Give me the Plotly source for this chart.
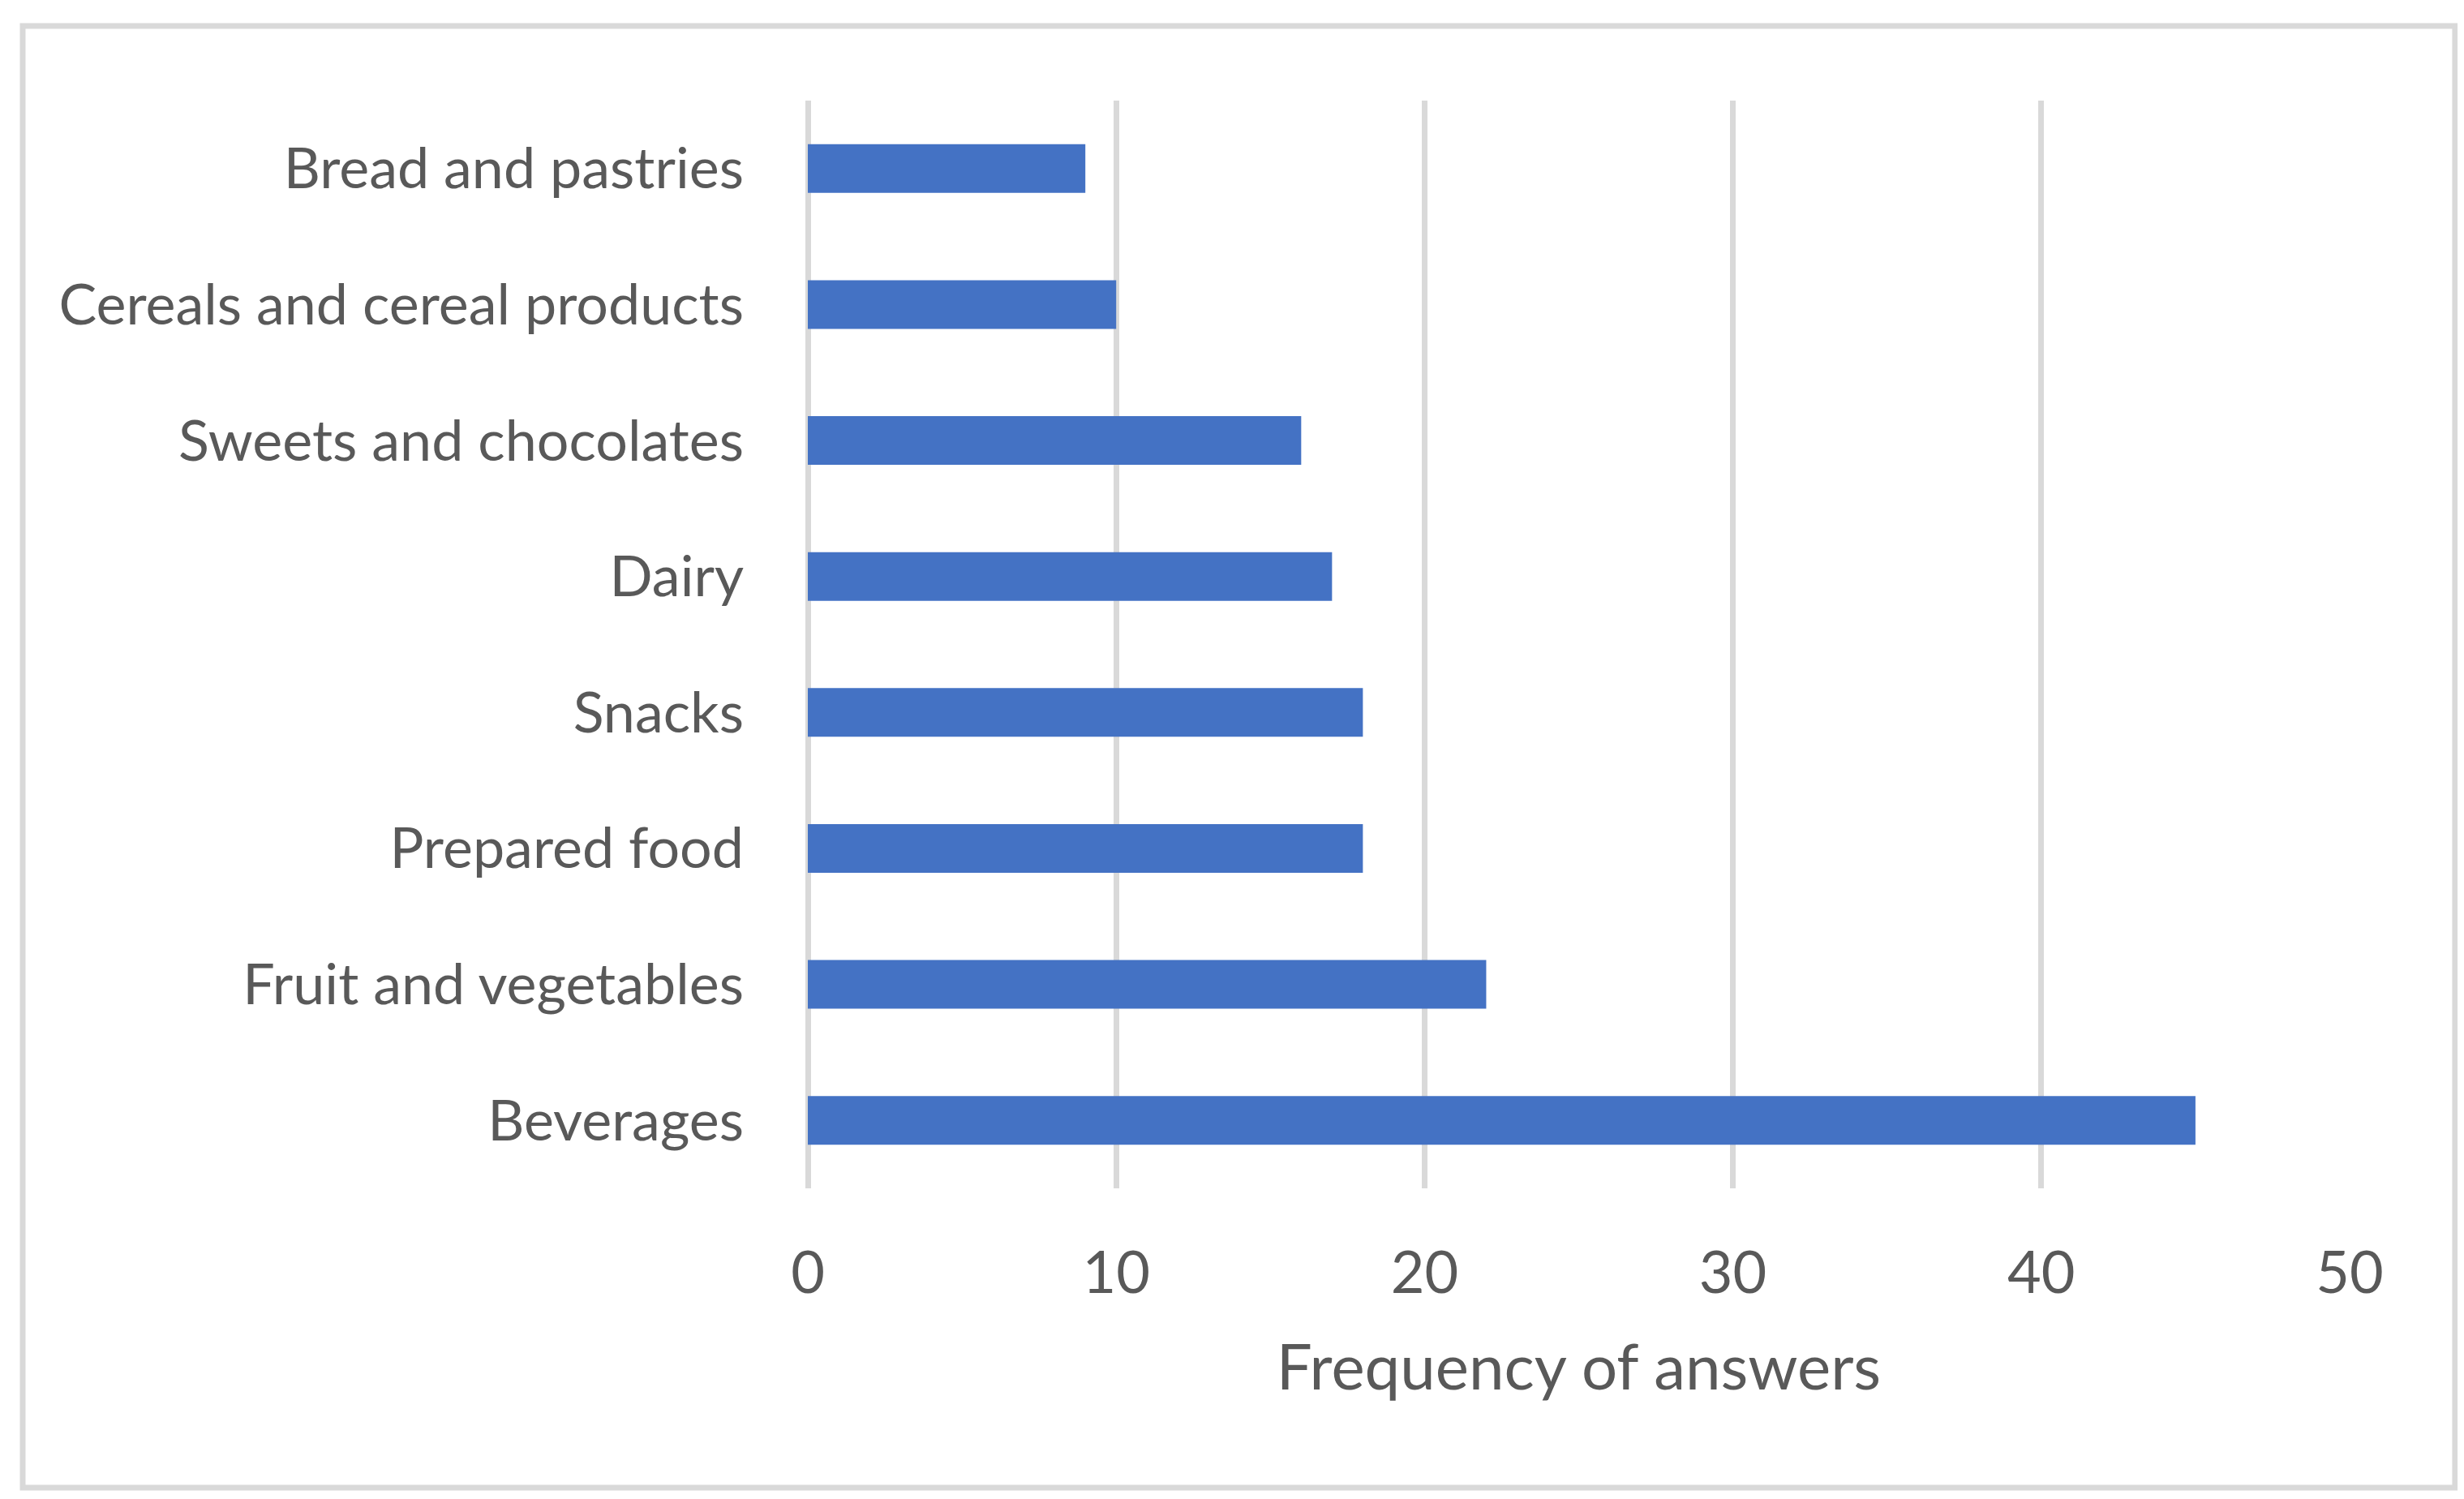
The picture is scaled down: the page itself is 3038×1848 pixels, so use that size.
import plotly.graph_objects as go

categories = ["Beverages", "Fruit and vegetables", "Prepared food", "Snacks",
              "Dairy", "Sweets and chocolates", "Cereals and cereal products",
              "Bread and pastries"]
values = [45, 22, 18, 18, 17, 16, 10, 9]
x_ticks = [0, 10, 20, 30, 40, 50]
x_title = "Frequency of answers"

W, H = 3038, 1848
L, R, T, B = 987.5, 148.5, 116, 391
FONT = "Lato, 'Open Sans', sans-serif"
TXT = "#595959"
GRID = "#D9D9D9"

fig = go.Figure(go.Bar(
    y=categories, x=values, orientation="h",
    marker=dict(color="#4472C4", line=dict(width=0)),
    width=0.358,
))

pw, ph = W - L - R, H - T - B
def px(x):
    return (x - L) / pw
def py(y):
    return (H - B - y) / ph

fig.add_shape(type="rect", xref="paper", yref="paper",
              x0=px(19), x1=px(3019.5), y0=py(1826), y1=py(24),
              line=dict(color=GRID, width=7), fillcolor="rgba(0,0,0,0)", layer="below")

fig.update_layout(
    width=W, height=H,
    margin=dict(l=L, r=R, t=T, b=B, autoexpand=False),
    paper_bgcolor="white", plot_bgcolor="white",
    showlegend=False,
    font=dict(family=FONT, color=TXT),
)
fig.update_xaxes(
    range=[0, 50], tickvals=x_ticks, ticktext=[str(v) for v in x_ticks],
    showgrid=True, gridcolor=GRID, gridwidth=7,
    zeroline=True, zerolinecolor=GRID, zerolinewidth=7,
    showline=False, ticks="",
    tickfont=dict(size=72, color=TXT, family=FONT),
    ticklabelstandoff=56,
    title=dict(text=x_title, font=dict(size=78, color=TXT, family=FONT), standoff=50),
)
fig.update_yaxes(
    categoryorder="array", categoryarray=categories,
    showgrid=False, zeroline=False, showline=False, ticks="",
    tickfont=dict(size=70, color=TXT, family=FONT),
    ticklabelstandoff=78,
)

fig.write_html("out.html")
